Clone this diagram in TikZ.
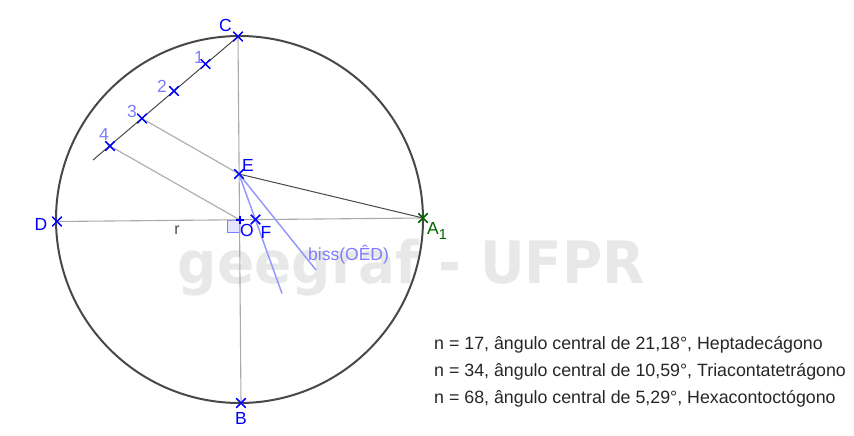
\documentclass[tikz,border=0pt]{standalone}
\usepackage{fontspec}
\setmainfont{Liberation Sans}
\newfontfamily\wmarkfont{DejaVu Sans}
\usetikzlibrary{shapes.misc, positioning, calc}
\definecolor{color1}{RGB}{0,0,255}
\definecolor{color2}{RGB}{0,100,0}
\definecolor{color3}{RGB}{125,125,255}
\definecolor{color4}{RGB}{72,72,72}
\definecolor{color5}{RGB}{170,170,170}
\definecolor{color6}{RGB}{232,232,232}
\tikzset{
	ptmark/.style={cross out,draw=color1,line width=1.4pt,inner sep=0pt,minimum size=8pt},
	ptlabel/.style={text=color1,font=\fontsize{17.5}{18}\selectfont,inner sep=0pt},
	numlabel/.style={ptlabel,text=color3},
	thinline/.style={color5,line width=1.1pt},
	darkline/.style={color4,line width=1pt},
	bissline/.style={color3!80!white,line width=1.5pt},
	infotext/.style={font=\fontsize{17.8}{18}\selectfont,text=black!85,inner sep=0pt,anchor=west}
}

\begin{document}
\begin{tikzpicture}[x=1pt,y=-1pt]
		\useasboundingbox (0,0) rectangle (854,436);
		\node[text=color6,font=\wmarkfont\bfseries\fontsize{58.5}{60}\selectfont,inner sep=0pt,anchor=base,transform shape,xscale=0.94] (wmark) at (411.5,283) {geegraf - UFPR};

		\coordinate (centro) at (239.5,219.5);
		\coordinate (fimreta) at (93,160);
		\coordinate (fimbiss) at (316,270);
		\coordinate (fimef) at (282,293.5);

		\node[ptmark] (C) at (238,36.5) {};
		\node[ptmark] (B) at (241,403) {};
		\node[ptmark] (D) at (57,221.5) {};
		\node[ptmark,draw=color2] (A) at (423,218) {};
		\node[ptmark] (E) at (239,174) {};
		\node[ptmark] (F) at (255.5,219.5) {};
		\node[ptmark] (p1) at (205.5,64) {};
		\node[ptmark] (p2) at (174,91) {};
		\node[ptmark] (p3) at (142,118.5) {};
		\node[ptmark] (p4) at (110,146) {};
		\coordinate (O) at (240,220);

		\draw[color3,fill=color3!20!white,line width=0.8pt] (O) -- (227.5,220.5) -- (227.5,232.5) -- (240,232.5) -- cycle;

		\draw[thinline] (C.center) -- (B.center);
		\draw[thinline] (D.center) -- (A.center);
		\draw[thinline] (p3.center) -- (E.center);
		\draw[thinline] (p4.center) -- (O);
		\draw[darkline] (C.center) -- (fimreta);
		\draw[darkline] (E.center) -- (A.center);
		\draw[bissline] (E.center) -- (fimbiss);
		\draw[bissline] (E.center) -- (fimef);
		\draw[color4,line width=2pt] (centro) circle (183.5);

		\foreach \pt in {C,B,D,E,F,p1,p2,p3,p4}
			\node[ptmark] at (\pt) {};
		\node[ptmark,draw=color2] at (A) {};
		\draw[color1,line width=1.4pt] (236,220) -- (244,220) (240,216) -- (240,224);

		\node[ptlabel] (labC) at (225.5,25.5) {C};
		\node[ptlabel] (labB) at (241,418) {B};
		\node[ptlabel] (labD) at (41,224) {D};
		\node[ptlabel] (labE) at (248,165) {E};
		\node[ptlabel] (labF) at (266,232) {F};
		\node[ptlabel] (labO) at (247,230) {O};
		\node[ptlabel,text=color2] (labA) at (433,228) {A};
		\node[ptlabel,text=color2,font=\fontsize{14.5}{15}\selectfont] (labAi) at (443,235) {1};
		\node[numlabel] (lab1) at (199,57) {1};
		\node[numlabel] (lab2) at (162,86) {2};
		\node[numlabel] (lab3) at (132,111) {3};
		\node[numlabel] (lab4) at (104,134) {4};
		\node[text=color4,font=\fontsize{16}{17}\selectfont,inner sep=0pt] (labr) at (177,230) {r};
		\node[numlabel,anchor=west] (labbiss) at (308,255) {biss(OÊD)};

		\node[infotext] (info1) at (434,344.5) {n = 17, ângulo central de 21,18°, Heptadecágono};
		\node[infotext] (info2) at (434,371.5) {n = 34, ângulo central de 10,59°, Triacontatetrágono};
		\node[infotext] (info3) at (434,398.5) {n = 68, ângulo central de 5,29°, Hexacontoctógono};
\end{tikzpicture}
\end{document}
